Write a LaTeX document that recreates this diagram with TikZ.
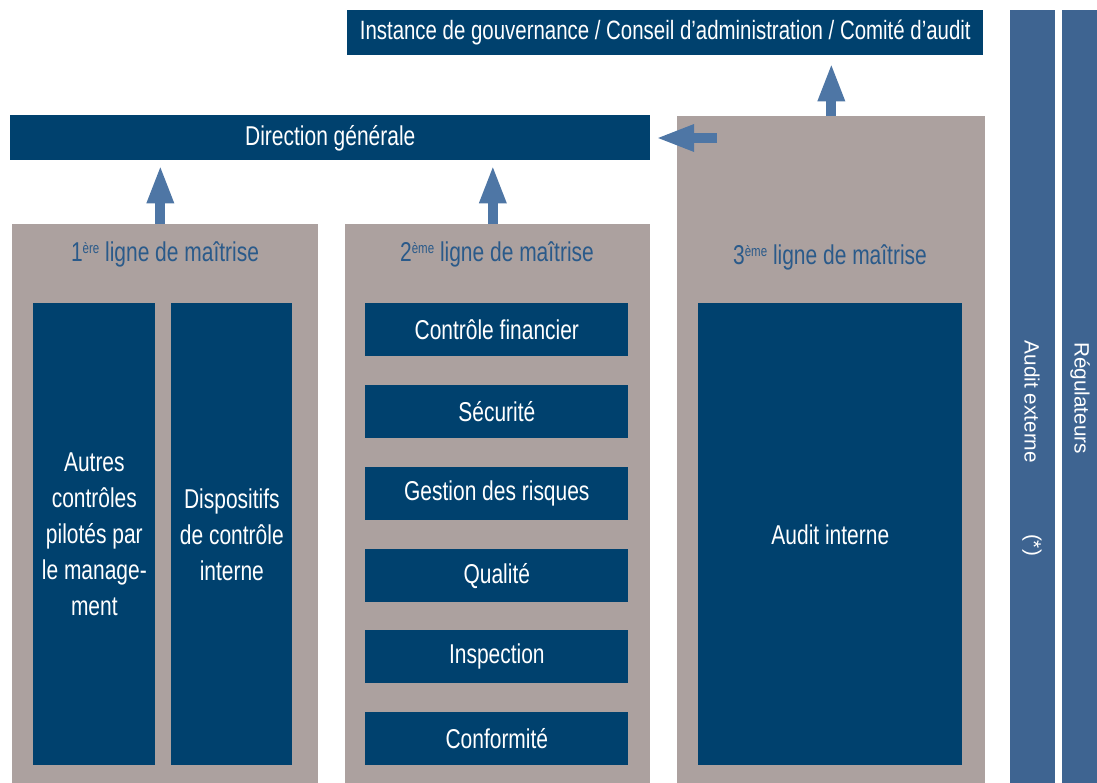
\documentclass[tikz,border=0pt]{standalone}
\usepackage{fontspec}
\setmainfont{Liberation Sans}[FakeStretch=0.77]
\newfontfamily\barfont{Liberation Sans}
\usetikzlibrary{arrows.meta}
\definecolor{navy}{RGB}{0,65,110}
\definecolor{taupe}{RGB}{172,161,159}
\definecolor{steel}{RGB}{62,100,145}
\definecolor{arrowblue}{RGB}{78,118,165}
\definecolor{titleblue}{RGB}{42,90,138}
\newcommand{\rangsup}[1]{\raisebox{0.55ex}{\fontsize{8.5}{9}\selectfont #1}}

\begin{document}
\begin{tikzpicture}[x=0.02cm, y=-0.02cm,
  darkbox/.style={fill=navy, text=white, anchor=north west, inner sep=0pt, align=center, font=\fontsize{15.5}{20.5}\selectfont},
  linebox/.style={fill=taupe, anchor=north west, inner sep=0pt},
  sidebar/.style={fill=steel, anchor=north west, inner sep=0pt, minimum height=15.46cm},
  linetitle/.style={text=titleblue, font=\fontsize{15.5}{18}\selectfont},
  bartext/.style={text=white, rotate=-90, font=\barfont\fontsize{11.8}{14}\selectfont},
  uparrow/.style={draw=arrowblue, line width=5.7pt, -{Triangle[length=22pt,width=14pt]}}]
\useasboundingbox (0,0) rectangle (1097,783);
\node[darkbox, minimum width=12.72cm, minimum height=0.9cm, font=\fontsize{15.1}{20}\selectfont] (gov) at (347,10) {Instance de gouvernance / Conseil d'administration / Comité d'audit};
\node[darkbox, minimum width=12.8cm, minimum height=0.9cm] (dg) at (10,115) {Direction générale};
\node[sidebar, minimum width=0.9cm] (audext) at (1010,10) {};
\node[sidebar, minimum width=0.7cm] (reg) at (1062,10) {};
\node[bartext] (audextlab) at (1032,402) {Audit externe};
\node[bartext] (star) at (1032,545) {(*)};
\node[bartext] (reglab) at (1080,398) {Régulateurs};
\node[linebox, minimum width=6.12cm, minimum height=11.18cm] (line1) at (12,224) {};
\node[linebox, minimum width=6.1cm, minimum height=11.18cm] (line2) at (345,224) {};
\node[linebox, minimum width=6.16cm, minimum height=13.34cm] (line3) at (677,116) {};
\node[linetitle] (title1) at (165,254) {1\rangsup{ère} ligne de maîtrise};
\node[linetitle] (title2) at (497,254) {2\rangsup{ème} ligne de maîtrise};
\node[linetitle] (title3) at (830,257) {3\rangsup{ème} ligne de maîtrise};
\node[darkbox, minimum width=2.44cm, minimum height=9.24cm] (autres) at (33,303) {Autres\\contrôles\\pilotés par\\le manage-\\ment};
\node[darkbox, minimum width=2.42cm, minimum height=9.24cm] (dispo) at (171,303) {Dispositifs\\de contrôle\\interne};
\foreach \y/\name/\txt in {303/cf/Contrôle financier, 385/secu/Sécurité, 467/risq/Gestion des risques, 549/qual/Qualité, 630/insp/Inspection, 712/conf/Conformité}
  \node[darkbox, minimum width=5.26cm, minimum height=1.06cm] (\name) at (365,\y) {\txt};
\node[darkbox, minimum width=5.28cm, minimum height=9.24cm] (audint) at (698,303) {Audit interne};
\coordinate (up1) at ([xshift=-0.1cm]line1.north);
\coordinate (up2) at ([xshift=-0.1cm]line2.north);
\coordinate (left3) at (717,138);
\draw[uparrow, shorten >=2.3pt] (up1) -- (up1 |- dg.south);
\draw[uparrow, shorten >=2.3pt] (up2) -- (up2 |- dg.south);
\draw[uparrow, shorten >=4pt] (line3.north) -- (line3.north |- gov.south);
\draw[uparrow, shorten >=2.8pt] (left3) -- (left3 -| dg.east);
\end{tikzpicture}
\end{document}
